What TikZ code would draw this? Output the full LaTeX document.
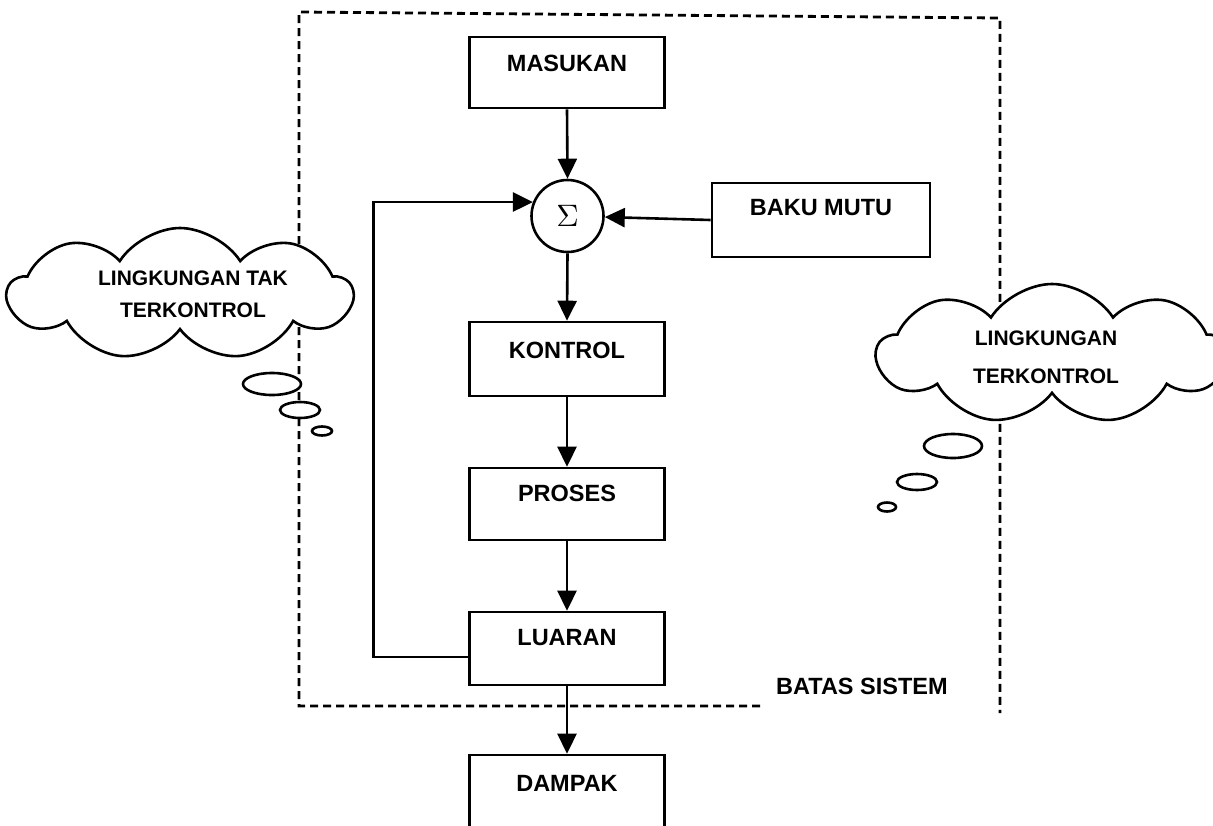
\documentclass[tikz,border=0pt]{standalone}
\usepackage{fontspec}
\setmainfont{Liberation Sans}
\usetikzlibrary{arrows.meta,shapes.symbols}

\begin{document}
\begin{tikzpicture}[x=1pt,y=-1pt,
  box/.style={draw,line width=2.6pt,minimum width=195pt,minimum height=73pt,inner sep=0pt},
  lbl/.style={font=\fontsize{23.5}{28}\selectfont\bfseries,inner sep=0pt},
  cloudlbl/.style={font=\fontsize{21}{32}\selectfont\bfseries,inner sep=0pt,align=center},
  puff/.style={cloud,draw,line width=2.6pt,cloud puffs=9,cloud puff arc=115,
    cloud ignores aspect,inner sep=0pt},
  bubble/.style={line width=2.6pt},
  link/.style={line width=2.6pt,-{Triangle[length=20pt,width=19pt]}},
  boundary/.style={line width=2.8pt,dash pattern=on 8pt off 5pt}]

\clip (0,0) rectangle (1213,825);
\fill[white] (0,0) rectangle (1213,825);

% system boundary
\coordinate (bend) at (760,706);
\coordinate (bl) at (299,706);
\coordinate (tl) at (299,12);
\coordinate (tr) at (1000,18);
\coordinate (br) at (1000,713);
\draw[boundary] (bend) -- (bl) -- (tl) -- (tr) -- (br);
\node[lbl,anchor=west] (batas) at (776,686) {BATAS SISTEM};

% blocks
\node[box,minimum height=71pt] (masukan) at (567,72.5) {};
\node[lbl] (masukan-t) at (567,63) {MASUKAN};

\node[draw,circle,line width=2.6pt,minimum size=72pt,inner sep=0pt] (sigma) at (567.5,216)
  {\scalebox{3.1}{$\Sigma$}};

\node[box,minimum width=218pt,minimum height=74pt] (baku) at (821,220) {};
\node[lbl] (baku-t) at (821,208) {BAKU MUTU};

\node[box,minimum height=74pt] (kontrol) at (567,359) {};
\node[lbl] (kontrol-t) at (567,350) {KONTROL};

\node[box,minimum height=72pt] (proses) at (567,504) {};
\node[lbl] (proses-t) at (567,493) {PROSES};

\node[box] (luaran) at (567,648.5) {};
\node[lbl] (luaran-t) at (567,638) {LUARAN};

\node[box,minimum height=90pt] (dampak) at (567,800) {};
\node[lbl] (dampak-t) at (567,783) {DAMPAK};

% signal flow
\draw[link] (masukan.south) -- (sigma.north);
\draw[link] (baku.west) -- (sigma);
\draw[link] (sigma.south) -- (kontrol.north);
\draw[link] (kontrol.south) -- (proses.north);
\draw[link] (proses.south) -- (luaran.north);
\draw[link] (luaran.south) -- (dampak.north);
\draw[link] ([yshift=-8.5pt]luaran.west) -- ++(-95,0) |- (sigma.158);

% uncontrolled environment
\node[puff,fill=white,minimum width=344pt,minimum height=132pt] (luar) at (180,294) {};
\node[cloudlbl] (luar-t) at (193,294) {LINGKUNGAN TAK\\TERKONTROL};
\draw[bubble,fill=white] (272,384) ellipse [x radius=29, y radius=11];
\draw[bubble,fill=white] (300,410) ellipse [x radius=20, y radius=8];
\draw[bubble,fill=white] (322,431) ellipse [x radius=10, y radius=4.5];

% controlled environment
\node[puff,fill=white,minimum width=350pt,minimum height=140pt] (dalam) at (1052,354) {};
\node[cloudlbl,font=\fontsize{21}{38}\selectfont\bfseries] (dalam-t) at (1046,357) {LINGKUNGAN\\TERKONTROL};
\draw[bubble,fill=white] (953,446) ellipse [x radius=29, y radius=12];
\draw[bubble,fill=white] (917,482) ellipse [x radius=20, y radius=8];
\draw[bubble,fill=white] (887,507) ellipse [x radius=9, y radius=4.5];
\end{tikzpicture}
\end{document}
